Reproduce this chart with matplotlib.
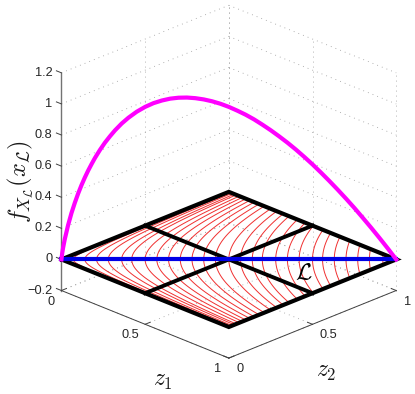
import numpy as np
import matplotlib
matplotlib.use("Agg")
import matplotlib.pyplot as plt
from matplotlib.transforms import offset_copy

plt.rcParams['font.family'] = ['Liberation Sans', 'DejaVu Sans']
plt.rcParams['mathtext.fontset'] = 'cm'

# Values
curve_t = [0, .0025, .005, .01, .02, .03, .04, .05, .06, .07, .08, .09, .1, .115, .13, .145, .16, .18,
           .2, .225, .25, .275, .3, .325, .35, .375, .4, .425, .45, .475, .5, .525, .55, .575,
           .6, .625, .65, .675, .7, .725, .75, .775, .8, .825, .85, .875, .9, .925, .95, .975, 1]
curve_f = [0, .042, .075, .130, .221, .298, .364, .424, .478, .527, .572, .613, .652, .704, .751,
           .792, .830, .874, .911, .950, .981, 1.005, 1.022, 1.034, 1.040, 1.041, 1.037, 1.029,
           1.017, 1.001, .981, .957, .931, .901, .867, .831, .792, .751, .707, .660, .611, .559,
           .505, .449, .391, .331, .268, .204, .138, .070, 0]
# Where each red contour crosses the diagonal (read); each contour is the level set z1*z2 = t^2
contour_t = [.035, .07, .105, .14, .18, .21, .25, .285, .32, .355, .39, .425, .46, .5, .535,
             .57, .6, .64, .675, .71, .75, .78, .815, .85, .885, .92, .96]
z1_ticks = [0, 0.5, 1]
z2_ticks = [0, 0.5, 1]
z_ticks = [-0.2, 0, 0.2, 0.4, 0.6, 0.8, 1, 1.2]
z_labels = ['\u22120.2', '0', '0.2', '0.4', '0.6', '0.8', '1', '1.2']
z_low, z_high = -0.2, 1.2

fig = plt.figure(figsize=(4.15, 3.94), dpi=100)
ax = fig.add_axes([16 / 415, 10 / 394, 1.0, 1.0], projection='3d', computed_zorder=False)
ax.set_proj_type('ortho')
ax.view_init(elev=23.8, azim=-45)
ax.set_xlim(0, 1, view_margin=0)
ax.set_ylim(0, 1, view_margin=0)
ax.set_zlim(z_low, z_high, view_margin=0)
ax.set_box_aspect((1, 1, 1.005), zoom=1.012)
ax.set_xticks([])
ax.set_yticks([])
ax.set_zticks([])
ax.set_axis_off()
for a3 in (ax.xaxis, ax.yaxis, ax.zaxis):
    a3.set_visible(False)

grid = dict(color='0.6', lw=0.6, ls=(0, (1, 5)), zorder=1)
axis = dict(color='0.25', lw=0.7, zorder=2)

# Back walls and floor grid
for z in z_ticks:
    ax.plot([0, 0], [0, 1], [z, z], **grid)
    ax.plot([0, 1], [1, 1], [z, z], **grid)
for p in z2_ticks:
    ax.plot([0, 0], [p, p], [z_low, z_high], **grid)
    ax.plot([0, 1], [p, p], [z_low, z_low], **grid)
for p in z1_ticks:
    ax.plot([p, p], [1, 1], [z_low, z_high], **grid)
    ax.plot([p, p], [0, 1], [z_low, z_low], **grid)

# Solid axes and ticks
ax.plot([0, 1], [0, 0], [z_low, z_low], **axis)
ax.plot([1, 1], [0, 1], [z_low, z_low], **axis)
ax.plot([0, 0], [0, 0], [z_low, z_high], color='0.45', lw=1.0, zorder=2)
tick = 0.03
for p in z1_ticks:
    ax.plot([p, p], [0, tick], [z_low, z_low], **axis)
for p in z2_ticks:
    ax.plot([1, 1 - tick], [p, p], [z_low, z_low], **axis)
for z in z_ticks:
    ax.plot([-tick, 0], [0, 0], [z, z], **axis)

# Red level curves on z=0
for t in contour_t:
    c = t * t
    a = np.geomspace(c, 1, 120)
    ax.plot(a, c / a, np.zeros_like(a), color='#f03030', lw=0.7, zorder=3)

# Black region with dividers
ax.plot([0, 1, 1, 0, 0], [0, 0, 1, 1, 0], [0, 0, 0, 0, 0], color='k', lw=3.0,
        solid_joinstyle='miter', zorder=4)
ax.plot([0.5, 0.5], [0, 1], [0, 0], color='k', lw=2.8, zorder=4)
ax.plot([0, 1], [0.5, 0.5], [0, 0], color='k', lw=2.8, zorder=4)

# Blue diagonal and magenta density
ax.plot(curve_t, curve_t, np.zeros(len(curve_t)), color='#0000e6', lw=3.0, zorder=5)
ax.plot(curve_t, curve_t, curve_f, color='#ff00ff', lw=3.0, zorder=6)


def label(x, y, z, s, dx, dy, **kw):
    tr = offset_copy(ax.transData, fig=fig, x=dx, y=dy, units='dots')
    ax.text(x, y, z, s, transform=tr, ha=kw.pop('ha', 'center'), va=kw.pop('va', 'center'),
            zorder=7, **kw)


tc = '0.15'
for z, s in zip(z_ticks, z_labels):
    label(0, 0, z, s, -9, 0, ha='right', fontsize=9.2, color=tc)
for p, dx in zip(z1_ticks, [-10, -15, -11]):
    label(p, 0, z_low, f'{p:g}', dx, -11, fontsize=9.2, color=tc)
for p, dx in zip(z2_ticks, [11, 16, 11]):
    label(1, p, z_low, f'{p:g}', dx, -11, fontsize=9.2, color=tc)

fig.text(163 / 415, 1 - 381 / 394, r'$z_1$', fontsize=17, ha='center', va='center', color='0.1')
fig.text(326 / 415, 1 - 372 / 394, r'$z_2$', fontsize=17, ha='center', va='center', color='0.1')
fig.text(20 / 415, 1 - 182 / 394, r'$f_{X_{\mathcal{L}}}(x_{\mathcal{L}})$', fontsize=17.5,
         rotation=90, ha='center', va='center', color='0.1')
label(0.825, 0.622, 0, r'$\mathcal{L}$', 0, 0, fontsize=17, color='k')

fig.savefig('out.png', dpi=100)
